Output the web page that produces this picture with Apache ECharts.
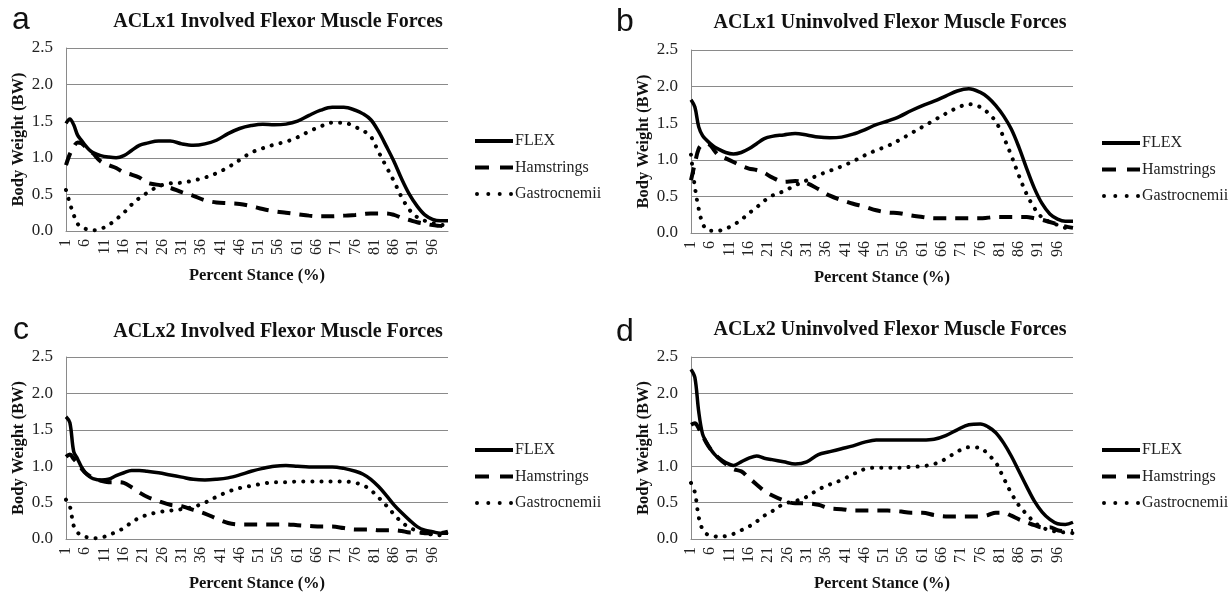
<!DOCTYPE html>
<html>
<head>
<meta charset="utf-8">
<script src="https://cdn.jsdelivr.net/npm/echarts@6/dist/echarts.min.js"></script>
<style>
html,body{margin:0;padding:0;background:#fff;}
#chart{width:1230px;height:593px;}
</style>
</head>
<body>
<div id="chart"></div>
<script>
// Percent stance categories 1..100
const categories = Array.from({length:100},(_,i)=>String(i+1));
const stance = [1,2,3,4,5,6,7,8,10,12,14,16,18,20,22,25,28,31,34,37,40,43,46,49,52,55,58,61,64,67,70,73,76,78,80,82,84,86,88,90,92,94,96,98,100];

const seriesNames = ['FLEX','Hamstrings','Gastrocnemii'];
const yTicks = [0,0.5,1.0,1.5,2.0,2.5];

// Panel a: ACLx1 Involved
const a_flex = [1.47,1.53,1.45,1.31,1.24,1.17,1.11,1.07,1.03,1.01,1.00,1.03,1.10,1.17,1.20,1.23,1.23,1.19,1.17,1.19,1.24,1.33,1.40,1.44,1.46,1.45,1.46,1.50,1.58,1.65,1.69,1.69,1.65,1.60,1.52,1.36,1.16,0.95,0.71,0.50,0.34,0.22,0.16,0.14,0.14];
const a_ham  = [0.90,1.05,1.15,1.21,1.20,1.15,1.10,1.06,0.95,0.90,0.86,0.80,0.77,0.73,0.66,0.63,0.59,0.53,0.48,0.42,0.39,0.38,0.37,0.34,0.30,0.27,0.25,0.23,0.21,0.20,0.20,0.21,0.22,0.23,0.24,0.24,0.24,0.22,0.18,0.15,0.12,0.10,0.08,0.07,0.06];
const a_gas  = [0.56,0.38,0.22,0.10,0.05,0.03,0.02,0.01,0.03,0.08,0.16,0.25,0.36,0.45,0.52,0.61,0.65,0.66,0.69,0.73,0.79,0.87,0.97,1.07,1.13,1.18,1.22,1.28,1.36,1.43,1.48,1.48,1.42,1.37,1.29,1.08,0.88,0.68,0.46,0.29,0.19,0.14,0.11,0.09,0.06];

// Panel b: ACLx1 Uninvolved
const b_flex = [1.82,1.72,1.45,1.33,1.27,1.22,1.18,1.15,1.10,1.08,1.10,1.15,1.22,1.29,1.32,1.34,1.36,1.34,1.31,1.30,1.31,1.35,1.41,1.48,1.53,1.59,1.67,1.74,1.80,1.87,1.94,1.97,1.92,1.85,1.74,1.60,1.42,1.17,0.88,0.61,0.40,0.26,0.19,0.16,0.16];
const b_ham  = [0.72,0.95,1.15,1.21,1.22,1.20,1.13,1.07,1.02,0.97,0.92,0.88,0.86,0.82,0.76,0.70,0.71,0.68,0.60,0.51,0.45,0.40,0.36,0.31,0.28,0.27,0.24,0.22,0.20,0.20,0.20,0.20,0.20,0.21,0.22,0.22,0.22,0.22,0.22,0.20,0.18,0.15,0.12,0.09,0.07];
const b_gas  = [1.07,0.63,0.33,0.13,0.05,0.03,0.03,0.03,0.06,0.11,0.18,0.27,0.35,0.44,0.51,0.57,0.65,0.72,0.79,0.85,0.91,0.98,1.06,1.13,1.19,1.27,1.36,1.45,1.54,1.63,1.71,1.76,1.72,1.64,1.52,1.31,1.06,0.78,0.53,0.34,0.21,0.15,0.11,0.07,0.05];

// Panel c: ACLx2 Involved
const c_flex = [1.68,1.60,1.20,1.10,0.99,0.91,0.86,0.83,0.81,0.82,0.87,0.91,0.94,0.94,0.93,0.91,0.88,0.85,0.82,0.81,0.82,0.84,0.88,0.93,0.97,1.00,1.01,1.00,0.99,0.99,0.99,0.97,0.93,0.89,0.82,0.72,0.60,0.47,0.36,0.26,0.17,0.12,0.10,0.08,0.08];
const c_ham  = [1.13,1.16,1.10,1.04,0.97,0.91,0.87,0.84,0.80,0.78,0.78,0.77,0.71,0.64,0.58,0.52,0.47,0.45,0.40,0.35,0.28,0.22,0.20,0.20,0.20,0.20,0.20,0.19,0.18,0.17,0.17,0.15,0.13,0.13,0.13,0.12,0.12,0.12,0.11,0.09,0.09,0.08,0.08,0.08,0.10];
const c_gas  = [0.54,0.45,0.18,0.09,0.05,0.03,0.02,0.01,0.02,0.05,0.10,0.15,0.23,0.29,0.33,0.37,0.39,0.41,0.44,0.50,0.58,0.65,0.70,0.73,0.76,0.78,0.78,0.79,0.79,0.79,0.79,0.79,0.77,0.74,0.67,0.57,0.46,0.34,0.23,0.16,0.11,0.08,0.06,0.05,0.04];

// Panel d: ACLx2 Uninvolved
const d_flex = [2.33,2.22,1.75,1.44,1.33,1.24,1.17,1.12,1.05,1.01,1.06,1.11,1.14,1.11,1.09,1.06,1.03,1.06,1.16,1.20,1.24,1.28,1.33,1.36,1.36,1.36,1.36,1.36,1.37,1.42,1.50,1.57,1.58,1.54,1.46,1.32,1.14,0.93,0.72,0.52,0.37,0.27,0.21,0.20,0.23];
const d_ham  = [1.57,1.59,1.52,1.42,1.32,1.24,1.18,1.12,1.03,0.96,0.93,0.84,0.75,0.66,0.60,0.53,0.49,0.49,0.47,0.42,0.41,0.39,0.39,0.39,0.39,0.38,0.36,0.36,0.33,0.31,0.31,0.31,0.31,0.33,0.36,0.36,0.32,0.27,0.23,0.19,0.16,0.16,0.12,0.11,0.11];
const d_gas  = [0.77,0.64,0.30,0.13,0.07,0.05,0.04,0.03,0.04,0.07,0.12,0.17,0.24,0.32,0.38,0.48,0.52,0.58,0.68,0.75,0.81,0.89,0.96,0.98,0.98,0.98,0.99,1.00,1.03,1.10,1.20,1.26,1.25,1.16,1.05,0.84,0.63,0.46,0.34,0.23,0.16,0.12,0.10,0.09,0.08];

const panelTitles = ['ACLx1 Involved Flexor Muscle Forces','ACLx1 Uninvolved Flexor Muscle Forces','ACLx2 Involved Flexor Muscle Forces','ACLx2 Uninvolved Flexor Muscle Forces'];
const panelLetters = ['a','b','c','d'];
const panelData = [[a_flex,a_ham,a_gas],[b_flex,b_ham,b_gas],[c_flex,c_ham,c_gas],[d_flex,d_ham,d_gas]];

// layout
const grids = [
  {left:66, top:48, width:382, height:183},
  {left:691, top:50, width:382, height:183},
  {left:66, top:357, width:382, height:182},
  {left:691, top:357, width:382, height:183}
];
const titlePos = [[278,22],[890,23],[278,332],[890,330]];
const letterPos = [[21,20],[625,22],[21,330],[625,332]];
const legendPos = [[470,128],[1097,130],[470,437],[1097,437]];

const serif = '"Liberation Serif","Times New Roman",serif';
const lineStyles = [
  {color:'#000', width:3.5, type:'solid'},
  {color:'#000', width:4, type:[13,9]},
  {color:'#000', width:4, type:[0.1,9], cap:'round'}
];
// legend glyphs (38 x 4 boxes)
const legendIcons = [
  'path://M0,0H38V4H0Z',
  'path://M0,0H14V4H0Z M25,0H38V4H25Z',
  'path://M0,2a2,2 0 1,0 4,0a2,2 0 1,0 -4,0Z M11.3,2a2,2 0 1,0 4,0a2,2 0 1,0 -4,0Z M22.7,2a2,2 0 1,0 4,0a2,2 0 1,0 -4,0Z M34,2a2,2 0 1,0 4,0a2,2 0 1,0 -4,0Z'
];

const option = {
  animation:false,
  backgroundColor:'#fff',
  grid: grids,
  xAxis: grids.map((g,i)=>({
    type:'category', gridIndex:i, data:categories, boundaryGap:false,
    name:'Percent Stance (%)', nameLocation:'middle', nameGap:36,
    nameTextStyle:{fontFamily:serif, fontWeight:'bold', fontSize:16.5, color:'#111'},
    axisLine:{lineStyle:{color:'#8a8a8a', width:1}},
    axisTick:{show:false},
    axisLabel:{interval:4, rotate:90, margin:8, fontFamily:serif, fontSize:16, color:'#222'},
    splitLine:{show:false}
  })),
  yAxis: grids.map((g,i)=>({
    type:'value', gridIndex:i, min:yTicks[0], max:yTicks[yTicks.length-1], interval:0.5,
    name:'Body Weight (BW)', nameLocation:'middle', nameGap:39,
    nameTextStyle:{fontFamily:serif, fontWeight:'bold', fontSize:16.5, color:'#111'},
    axisLine:{show:true, lineStyle:{color:'#8a8a8a', width:1}},
    axisTick:{show:false},
    axisLabel:{margin:13, fontFamily:serif, fontSize:17, color:'#222', formatter:v=>v.toFixed(1)},
    splitLine:{show:true, lineStyle:{color:'#8a8a8a', width:1}}
  })),
  legend: legendPos.map(p=>({
    orient:'vertical', left:p[0], top:p[1], itemWidth:38, itemHeight:4, itemGap:10.5,
    data: seriesNames.map((n,k)=>({name:n, icon:legendIcons[k]})),
    selectedMode:false,
    itemStyle:{color:'#000', borderWidth:0},
    textStyle:{fontFamily:serif, fontSize:16, color:'#222', padding:[0,0,0,-3]}
  })),
  series: [],
  graphic: []
};

panelData.forEach((sets,p)=>{
  sets.forEach((vals,k)=>{
    option.series.push({
      type:'line', name:seriesNames[k], xAxisIndex:p, yAxisIndex:p,
      data: stance.map((s,i)=>[String(s), vals[i]]),
      smooth:0.35, symbol:'none', showSymbol:false,
      lineStyle: Object.assign({}, lineStyles[k]),
      itemStyle:{color:'#000'},
      z: 3-k
    });
  });
  option.graphic.push({
    type:'text', x:titlePos[p][0], y:titlePos[p][1],
    style:{text:panelTitles[p], font:'bold 20px '+serif, fill:'#111', align:'center', verticalAlign:'middle', textAlign:'center', textVerticalAlign:'middle'}
  });
  option.graphic.push({
    type:'text', x:letterPos[p][0], y:letterPos[p][1],
    style:{text:panelLetters[p], font:'32px "Liberation Sans",Arial,sans-serif', fill:'#111', align:'center', verticalAlign:'middle', textAlign:'center', textVerticalAlign:'middle'}
  });
});

const chart = echarts.init(document.getElementById('chart'), null, {renderer:'canvas'});
chart.setOption(option);
</script>
</body>
</html>
